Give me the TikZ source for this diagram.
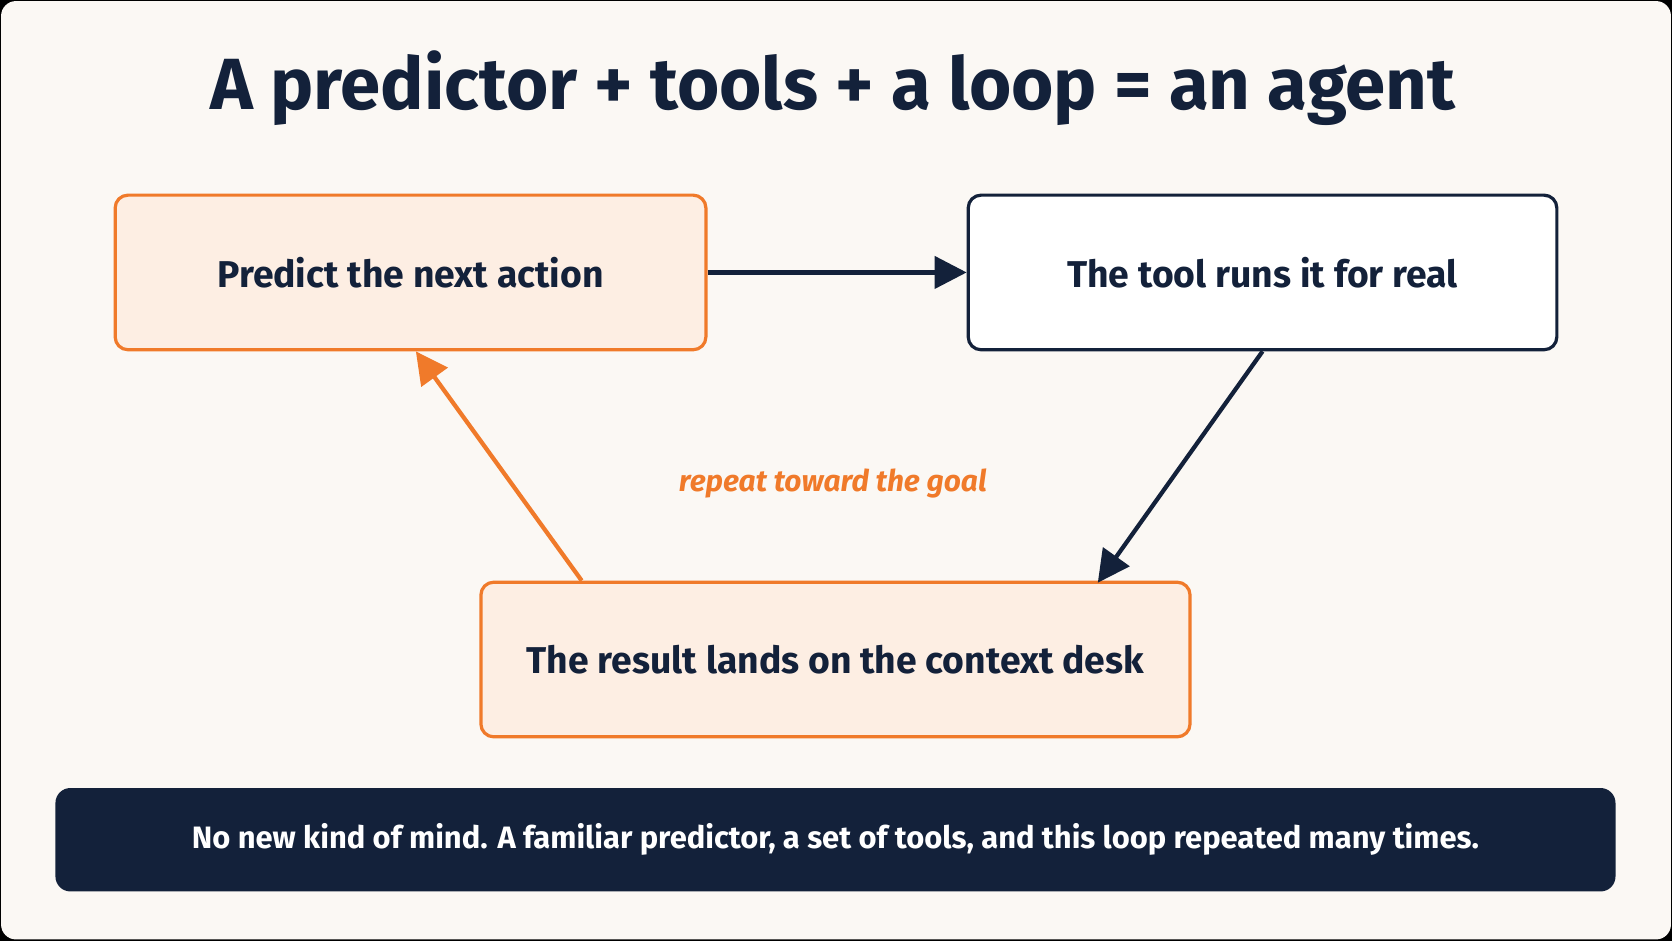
\documentclass[tikz,border=0pt]{standalone}
\usepackage{fontspec}
\setmainfont{Fira Sans}
\usetikzlibrary{arrows.meta}
\definecolor{navy}{HTML}{13213A}
\definecolor{org}{HTML}{F07A2A}
\definecolor{orgf}{HTML}{FDEEE3}
\definecolor{bg}{HTML}{FBF8F4}
\begin{document}
\begin{tikzpicture}[x=1pt,y=-1pt,
 box/.style={rounded corners=12pt,line width=3pt,minimum height=145pt,font=\bfseries\fontsize{35}{40}\selectfont,text=navy},
 obox/.style={box,draw=org,fill=orgf},
 arr/.style={line width=4pt,-{Triangle[length=30pt,width=30pt]}}]
\useasboundingbox (0,0) rectangle (1568,882);
\fill[black] (0,0) rectangle (1568,882);
\fill[bg,rounded corners=14pt] (1,1) rectangle (1567,881);
\node[font=\bfseries\fontsize{68}{74}\selectfont,text=navy] (title) at (781,83) {A predictor + tools + a loop = an agent};
\node[obox,minimum width=554pt] (p) at (385,255.5) {Predict the next action};
\node[box,draw=navy,fill=white,minimum width=552pt] (t) at (1184,255.5) {The tool runs it for real};
\node[obox,minimum width=665pt] (r) at (783.5,618.5) {The result lands on the context desk};
\draw[arr,draw=navy] (p.east) -- (t.west);
\draw[arr,draw=navy] (t.south) -- ([xshift=-88pt,yshift=-2pt]r.north east);
\draw[arr,draw=org] ([xshift=-238pt]r.north) -- ([xshift=5pt]p.south);
\node[font=\bfseries\itshape\fontsize{28}{32}\selectfont,text=org] (lbl) at (781,453) {repeat toward the goal};
\node[fill=navy,rounded corners=14pt,minimum width=1463pt,minimum height=97pt,text=white,font=\bfseries\fontsize{29}{33}\selectfont] (bar) at (783.5,787.5) {No new kind of mind. A familiar predictor, a set of tools, and this loop repeated many times.};
\end{tikzpicture}
\end{document}
